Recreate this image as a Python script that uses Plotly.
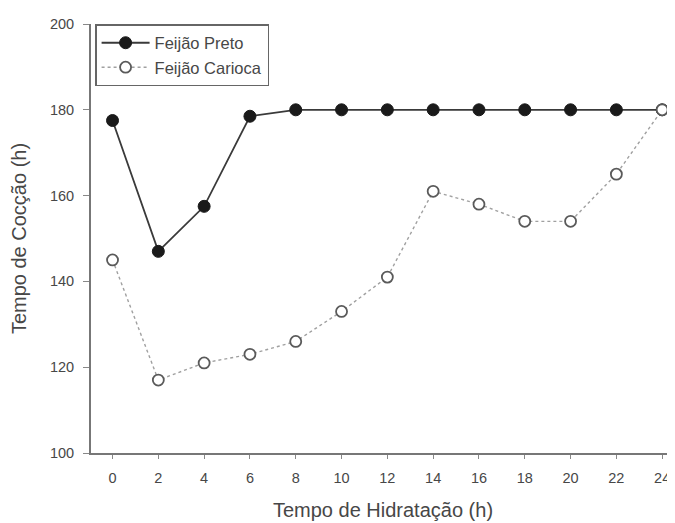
import plotly.graph_objects as go

hours = [0, 2, 4, 6, 8, 10, 12, 14, 16, 18, 20, 22, 24]
preto = [177.5, 147, 157.5, 178.5, 180, 180, 180, 180, 180, 180, 180, 180, 180]
carioca = [145, 117, 121, 123, 126, 133, 141, 161, 158, 154, 154, 165, 180]
x_ticks = [0, 2, 4, 6, 8, 10, 12, 14, 16, 18, 20, 22, 24]
y_ticks = [100, 120, 140, 160, 180, 200]

TXT = "#474747"

fig = go.Figure()
fig.add_trace(go.Scatter(
    x=hours, y=preto, name="Feijão Preto", mode="lines+markers",
    line=dict(color="#3a3a3a", width=1.8),
    marker=dict(symbol="circle", size=12, color="#1a1a1a", line=dict(color="#1a1a1a", width=1)),
))
fig.add_trace(go.Scatter(
    x=hours, y=carioca, name="Feijão Carioca", mode="lines+markers",
    line=dict(color="#a0a0a0", width=1.4, dash="dot"),
    marker=dict(symbol="circle", size=11, color="white", line=dict(color="#5a5a5a", width=1.8)),
))

# the page body has an 8px default margin, so the figure is sized to fit the window
fig.update_layout(
    width=667, height=515,
    margin=dict(l=83, r=0, t=16, b=70),
    paper_bgcolor="white", plot_bgcolor="white",
    font=dict(family="Liberation Sans, Arial, sans-serif", color=TXT, size=14),
    showlegend=True,
    legend=dict(
        x=0.007, y=1.0, xanchor="left", yanchor="top",
        bordercolor="#666666", borderwidth=1.5, bgcolor="white",
        font=dict(size=16.5, color=TXT),
        tracegroupgap=0, itemwidth=48,
    ),
    xaxis=dict(
        range=[-0.94, 24.56], tickvals=x_ticks, ticktext=[str(v) for v in x_ticks],
        showgrid=False, zeroline=False, showline=True, linecolor="#777777", linewidth=1.8,
        ticks="outside", ticklen=4, tickcolor="#888888", tickwidth=1.2,
        ticklabelstandoff=7,
        automargin=False,
        title=dict(text="Tempo de Hidratação (h)", font=dict(size=20, color=TXT), standoff=18),
        tickfont=dict(size=14.5, color=TXT),
    ),
    yaxis=dict(
        range=[100, 200], tickvals=y_ticks, ticktext=[str(v) for v in y_ticks],
        showgrid=False, zeroline=False, showline=True, linecolor="#777777", linewidth=1.8,
        ticks="outside", ticklen=6, tickcolor="#888888", tickwidth=1.2,
        ticklabelstandoff=6,
        automargin=False,
        title=dict(text="Tempo de Cocção (h)", font=dict(size=20, color=TXT), standoff=19),
        tickfont=dict(size=14.5, color=TXT),
    ),
)

fig.write_html("out.html")
